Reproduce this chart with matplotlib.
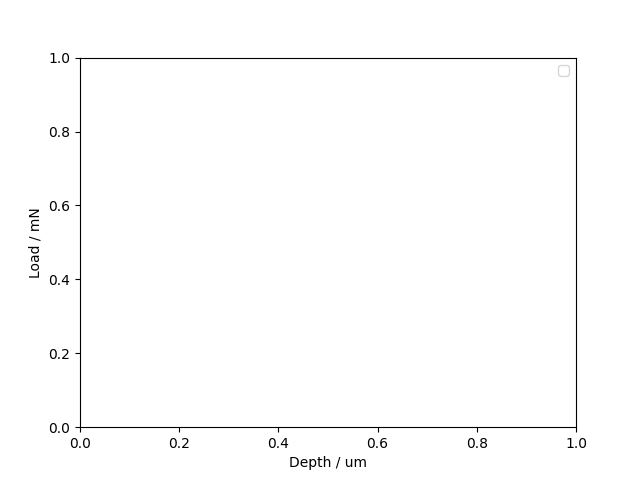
import matplotlib
matplotlib.use("Agg")
import matplotlib.pyplot as plt

# No measured curves in this chart: depth/load series are empty
depth = []
load = []

fig, ax = plt.subplots(figsize=(6.4, 4.8), dpi=100)

ax.plot(depth, load)
ax.set_xlim(0, 1)
ax.set_ylim(0, 1)
ax.set_xlabel("Depth / um")
ax.set_ylabel("Load / mN")
ax.legend()

plt.savefig("out.png")
